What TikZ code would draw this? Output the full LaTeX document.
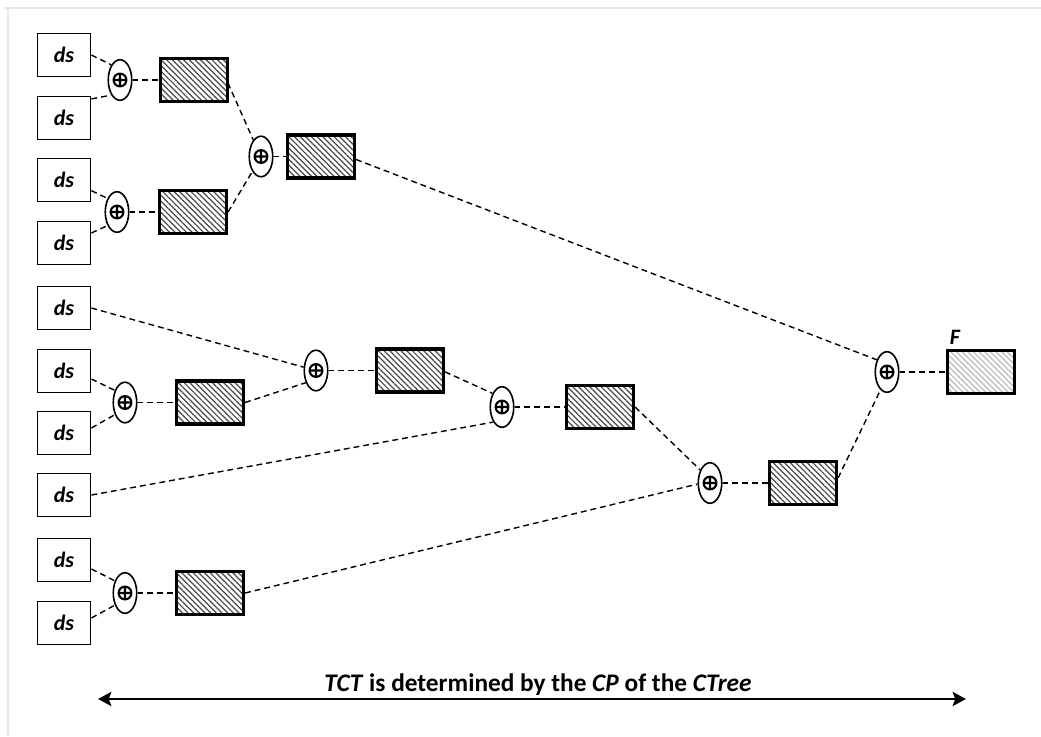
\documentclass[tikz,border=0pt]{standalone}
\usepackage{fontspec}
\setmainfont{Carlito}
\usetikzlibrary{arrows.meta,patterns.meta,shapes.geometric}

\definecolor{framecol}{RGB}{226,232,238}

\tikzset{
  dsbox/.style={draw=black, line width=1.1pt, minimum width=40pt, minimum height=32pt,
    inner sep=0pt, font=\fontsize{16.5}{18}\selectfont\bfseries\itshape},
  opnode/.style={draw=black, ellipse, line width=1.2pt, minimum width=17.6pt,
    minimum height=30.4pt, inner sep=0pt, fill=white,
    path picture={
      \draw[line width=1.6pt]
        (path picture bounding box.center) circle (4.8pt)
        ([xshift=-4.8pt]path picture bounding box.center) -- ([xshift=4.8pt]path picture bounding box.center)
        ([yshift=-4.8pt]path picture bounding box.center) -- ([yshift=4.8pt]path picture bounding box.center);
    }},
  blockbox/.style={draw=black, line width=2.6pt, minimum width=50pt, minimum height=32pt,
    inner sep=0pt, pattern={Lines[angle=-45,distance=3pt,line width=0.9pt]}, pattern color=black!72},
  finalbox/.style={blockbox, pattern color=black!28},
  link/.style={draw=black, line width=1.05pt, dash pattern=on 4.4pt off 3pt},
}

\begin{document}
\begin{tikzpicture}[x=0.75pt, y=-0.75pt]
  \useasboundingbox (0,0) rectangle (1041,736);
  % faint page frame
  \draw[framecol, line width=1pt] (4,8) -- (1041,8);
  \draw[framecol, line width=1pt] (8,8) -- (8,736);

  % data sources
  \foreach \n/\y in {1/55, 2/118, 3/180, 4/243, 5/308, 6/371, 7/433, 8/495, 9/560, 10/623}
    \node[dsbox] (ds\n) at (64,\y) {ds};

  % combining operators
  \node[opnode] (E1)  at (120,80)    {};
  \node[opnode] (E3)  at (117,212)   {};
  \node[opnode] (E2)  at (261,156.5) {};
  \node[opnode] (E67) at (125,402.5) {};
  \node[opnode] (EA)  at (316,370.5) {};
  \node[opnode] (EB)  at (502,407)   {};
  \node[opnode] (E910) at (125,593)  {};
  \node[opnode] (EC)  at (710,483)   {};
  \node[opnode] (EF)  at (887,372)   {};

  % intermediate results
  \node[blockbox] (R1)  at (194,80)    {};
  \node[blockbox] (R3)  at (193,212)   {};
  \node[blockbox] (R2)  at (321,156.5) {};
  \node[blockbox] (R67) at (210,402.5) {};
  \node[blockbox] (RA)  at (410,370.5) {};
  \node[blockbox] (RB)  at (600,407)   {};
  \node[blockbox] (R910) at (210,593)  {};
  \node[blockbox] (RC)  at (803,483)   {};
  \node[finalbox] (RF)  at (981,372)   {};
  \node[font=\fontsize{16.5}{18}\selectfont\bfseries\itshape] (Flabel) at (955,337) {F};

  % inputs into operators
  \draw[link] (ds1.east) -- (E1.120);
  \draw[link] ([yshift=-2.25pt]ds2.north east) -- (E1.240);
  \draw[link] ([yshift=-8pt]ds3.east) -- (E3.125);
  \draw[link] ([yshift=7.5pt]ds4.east) -- (E3.235);
  \draw[link] ([yshift=-6pt]ds6.east) -- (E67.130);
  \draw[link] ([yshift=3.75pt]ds7.east) -- (E67.230);
  \draw[link] ([yshift=-6.75pt]ds9.east) -- (E910.130);
  \draw[link] ([yshift=3.75pt]ds10.east) -- (E910.230);
  \draw[link] (ds5.east) -- (EA.165);
  \draw[link] (ds8.east) -- (EB.240);

  % operator outputs
  \draw[link] (E1.east) -- (R1.west);
  \draw[link] (E3.east) -- (R3.west);
  \draw[link] (E2.east) -- (R2.west);
  \draw[link] (E67.east) -- (R67.west);
  \draw[link] (EA.east) -- (RA.west);
  \draw[link] (EB.east) -- (RB.west);
  \draw[link] (E910.east) -- (R910.west);
  \draw[link] (EC.east) -- (RC.west);
  \draw[link] (EF.east) -- (RF.west);

  % results into next operators
  \draw[link] ([yshift=-2.25pt]R1.east) -- (E2.115);
  \draw[link] (R3.east) -- (E2.240);
  \draw[link] ([yshift=-2.25pt]R2.east) -- (EF.130);
  \draw[link] (R67.east) -- (EA.230);
  \draw[link] ([yshift=-1pt]RA.east) -- (EB.125);
  \draw[link] (RB.east) -- (EC.127);
  \draw[link] (R910.east) -- (EC.185);
  \draw[link] ([yshift=3.75pt]RC.east) -- (EF.250);

  % critical path span
  \coordinate (spanL) at (98,699);
  \coordinate (spanR) at (966,699);
  \draw[line width=2.2pt, {Stealth[length=10pt,width=10.5pt,inset=2pt]}-{Stealth[length=10pt,width=10.5pt,inset=2pt]}] (spanL) -- (spanR);
  \node[anchor=base, font=\fontsize{19}{22}\selectfont\bfseries, inner sep=0pt] (span) at (538,691)
    {\textit{TCT} is determined by the \textit{CP} of the \textit{CTree}};
\end{tikzpicture}
\end{document}
